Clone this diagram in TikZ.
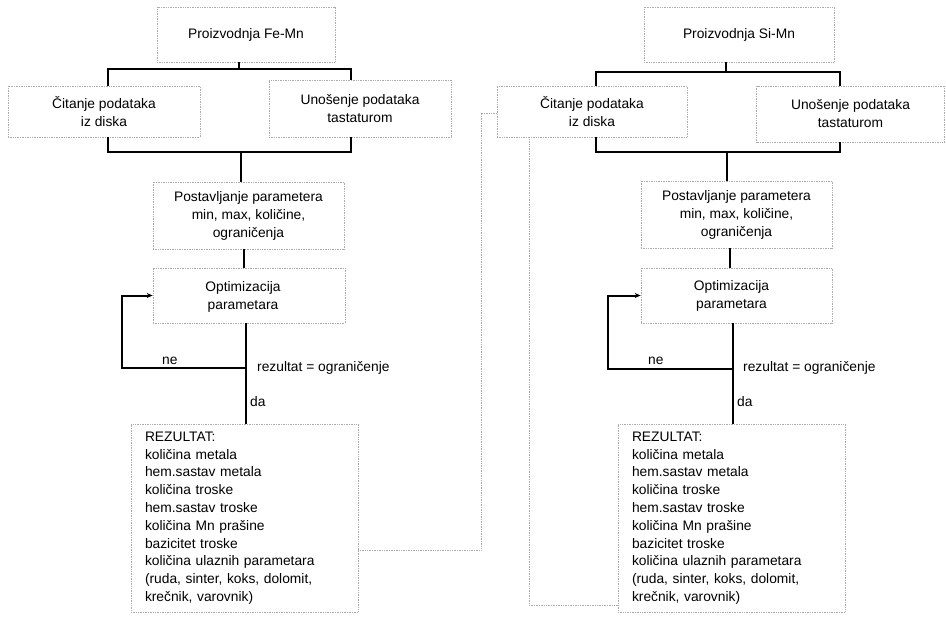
\documentclass[tikz,border=0pt]{standalone}
\usepackage{fontspec}
\setmainfont{Liberation Sans}
\usetikzlibrary{arrows.meta,calc}
\begin{document}
\begin{tikzpicture}[x=1pt,y=-1pt,
  box/.style={draw=gray!65, densely dotted, line width=0.7pt, align=center,
    inner sep=0pt, font=\fontsize{13.8}{18}\selectfont},
  resbox/.style={draw=gray!65, densely dotted, line width=0.7pt, align=left,
    inner xsep=14pt, inner ysep=0pt, minimum width=227pt, minimum height=188pt,
    text width=199pt, font=\fontsize{13.8}{17.8}\selectfont},
  conn/.style={draw=black, line width=2pt},
  arr/.style={conn, -{Stealth[length=6pt,width=5pt]}},
  dotconn/.style={draw=gray!65, densely dotted, line width=0.7pt},
  lbl/.style={inner sep=0pt, font=\fontsize{13.8}{16}\selectfont}]
\useasboundingbox (0,0) rectangle (946,627);

% ---------- left panel ----------
\node[box, minimum width=178pt, minimum height=55pt] (fe) at (246,34.5) {Proizvodnja Fe-Mn};
\node[box, minimum width=192pt, minimum height=51pt] (citL) at (104,111.5) {Čitanje podataka\\iz diska};
\node[box, minimum width=182pt, minimum height=57pt] (unoL) at (360,108.5) {Unošenje podataka\\tastaturom};
\node[box, minimum width=191pt, minimum height=67pt] (postL) at (248.5,215.5) {Postavljanje parametera\\min, max, količine,\\ograničenja};
\node[box, minimum width=192pt, minimum height=55pt, text depth=0pt] (optL) at (249,295.5) {\hspace*{-12pt}Optimizacija\\\hspace*{-12pt}parametara};
\node[resbox] (rezL) at (244.5,518) {REZULTAT:\\količina metala\\hem.sastav metala\\količina troske\\hem.sastav troske\\količina Mn prašine\\bazicitet troske\\količina ulaznih parametara\\(ruda, sinter, koks, dolomit,\\krečnik, varovnik)};

\draw[conn] ([xshift=-7pt]fe.south) -- ++(0,7) coordinate (jFe);
\draw[conn] ([xshift=4pt]citL.north) |- (jFe) -| ([xshift=-9pt]unoL.north);
\draw[conn] ([xshift=4pt]citL.south) -- ++(0,15) coordinate (bL) -| ([xshift=-9pt]unoL.south);
\draw[conn] ([xshift=-8pt]postL.north) -- ([xshift=-8pt]postL.north |- bL);
\draw[conn] ([xshift=-5pt]postL.south) -- ([xshift=-5pt]postL.south |- optL.north);
\coordinate (decL) at ($(optL.south)+(-3,45)$);
\draw[conn] ([xshift=-3pt]optL.south) -- ([xshift=-3pt]optL.south |- rezL.north);
\draw[arr] (decL) -- ++(-124,0) |- (optL.west);
\node[lbl, anchor=base west] (neL) at (162,364) {ne};
\node[lbl, anchor=base west] (rL) at (257,371) {rezultat = ograničenje};
\node[lbl, anchor=base west] (daL) at (250,406) {da};

% ---------- right panel ----------
\node[box, minimum width=190pt, minimum height=55pt] (si) at (739,34.5) {Proizvodnja Si-Mn};
\node[box, minimum width=190pt, minimum height=51pt] (citR) at (592,111.5) {Čitanje podataka\\iz diska};
\node[box, minimum width=188pt, minimum height=56pt] (unoR) at (850.5,114) {Unošenje podataka\\tastaturom};
\node[box, minimum width=191pt, minimum height=67pt] (postR) at (736.5,214.5) {Postavljanje parametera\\min, max, količine,\\ograničenja};
\node[box, minimum width=191pt, minimum height=55pt] (optR) at (736.5,295.5) {\hspace*{-10pt}Optimizacija\\\hspace*{-10pt}parametara};
\node[resbox] (rezR) at (731.5,518) {REZULTAT:\\količina metala\\hem.sastav metala\\količina troske\\hem.sastav troske\\količina Mn prašine\\bazicitet troske\\količina ulaznih parametara\\(ruda, sinter, koks, dolomit,\\krečnik, varovnik)};

\draw[conn] ([xshift=-13pt]si.south) -- ++(0,10) coordinate (jSi);
\draw[conn] ([xshift=4pt]citR.north) |- (jSi) -| ([xshift=-11pt]unoR.north);
\draw[conn] ([xshift=4pt]citR.south) -- ++(0,15) coordinate (bR) -| ([xshift=-11pt]unoR.south);
\draw[conn] ([xshift=-9.5pt]postR.north) -- ([xshift=-9.5pt]postR.north |- bR);
\draw[conn] ([xshift=-6.5pt]postR.south) -- ([xshift=-6.5pt]postR.south |- optR.north);
\coordinate (decR) at ($(optR.south)+(-3.5,46)$);
\draw[conn] ([xshift=-3.5pt]optR.south) -- ([xshift=-3.5pt]optR.south |- rezR.north);
\draw[arr] (decR) -- ++(-125,0) |- (optR.west);
\node[lbl, anchor=base west] (neR) at (648,364) {ne};
\node[lbl, anchor=base west] (rR) at (743,371) {rezultat = ograničenje};
\node[lbl, anchor=base west] (daR) at (737,406) {da};

% ---------- dotted links ----------
\coordinate (gut1) at (481,113);
\coordinate (gut2) at (529,605);
\draw[dotconn] ($(rezL.east)+(0,32)$) -| (gut1) -- (citR.west |- gut1);
\draw[dotconn] (citR.south -| gut2) -- (gut2) -- (rezR.west |- gut2);
\end{tikzpicture}
\end{document}
